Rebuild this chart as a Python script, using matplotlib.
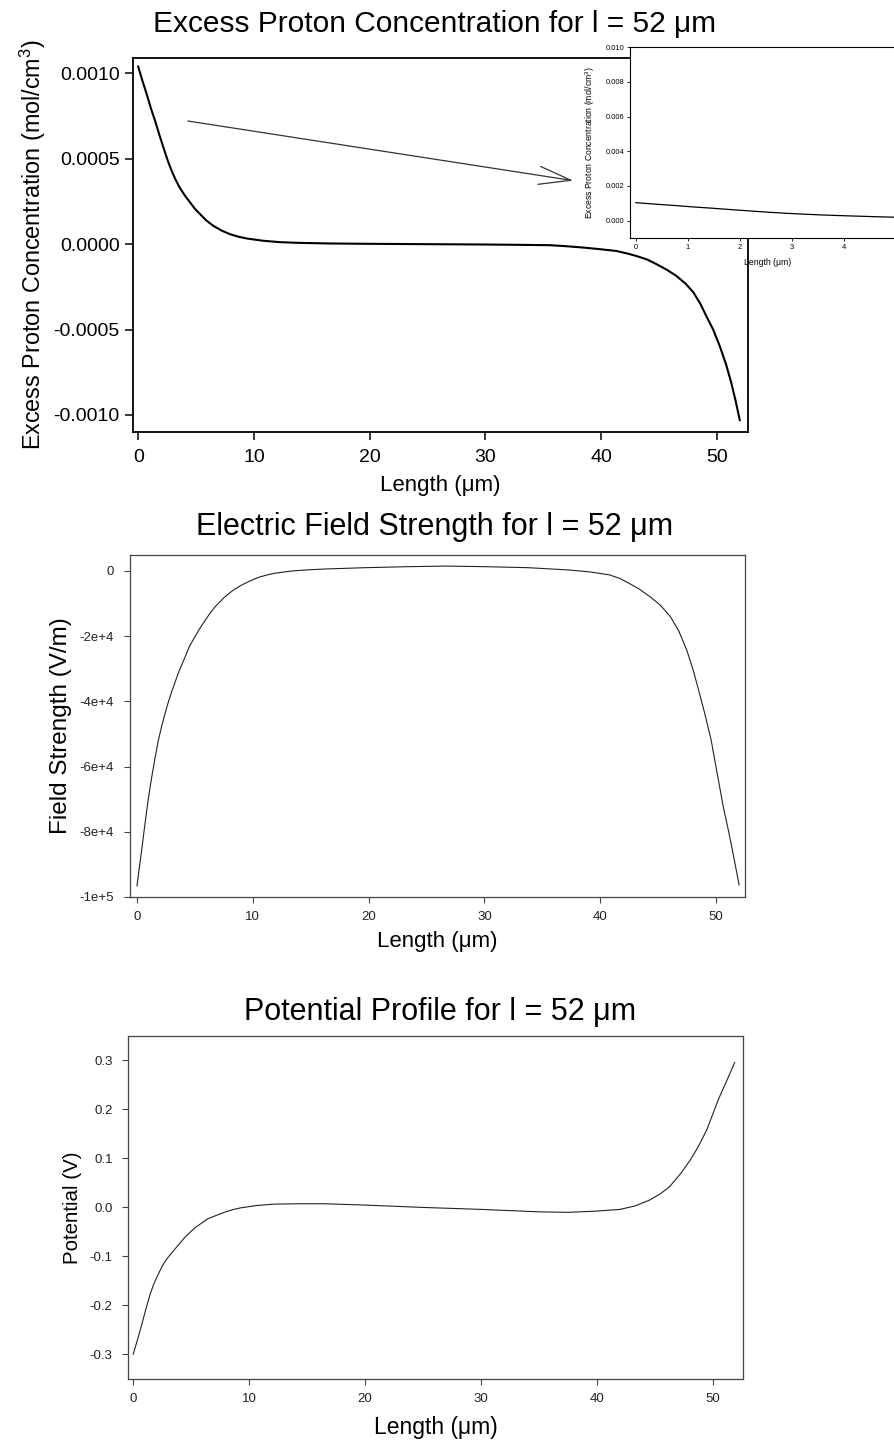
import matplotlib
matplotlib.use('Agg')
import matplotlib.pyplot as plt

plt.rcParams['font.family'] = ['Liberation Sans', 'DejaVu Sans']
plt.rcParams['mathtext.fontset'] = 'custom'
plt.rcParams['mathtext.rm'] = 'Liberation Sans'
plt.rcParams['axes.unicode_minus'] = False

# excess proton concentration (mol/cm3) vs length (um)
conc_x = [0, 0.35, 0.75, 1.1, 1.47, 1.83, 2.19, 2.55, 2.9, 3.25, 3.6, 4.05, 4.5, 4.9, 5.36, 5.9,
          6.5, 7.2, 7.95, 8.7, 9.4, 10.8, 12.2, 13.7, 16.6, 20, 25, 30, 33, 35.6, 37, 38.5, 40,
          41.35, 42.3, 43.1, 44, 44.8, 45.7, 46.5, 47.3, 48, 48.6, 49.1, 49.7, 50.26, 50.8,
          51.26, 51.65, 52]
conc_y = [0.00104, 0.00096, 0.000875, 0.000795, 0.00072, 0.00064, 0.000564, 0.00049, 0.000428,
          0.000375, 0.00033, 0.000283, 0.000243, 0.000207, 0.000175, 0.000138, 0.000107,
          0.00008, 0.000058, 0.000043, 0.000033, 0.00002, 0.000012, 0.000008, 0.000004,
          0.000002, 0.0, -0.000002, -0.000004, -0.000006, -0.000012, -0.00002, -0.00003,
          -0.00004, -0.000055, -0.00007, -0.00009, -0.000117, -0.00015, -0.000185, -0.00023,
          -0.000283, -0.00035, -0.00042, -0.0005, -0.000595, -0.0007, -0.00081, -0.00092,
          -0.00103]

# electric field strength (V/m)
field_x = [0, 0.2, 0.4, 0.62, 0.84, 1.05, 1.27, 1.55, 1.84, 2.12, 2.42, 2.7, 3.0, 3.57, 4.15,
           4.55, 5.0, 5.45, 5.9, 6.3, 6.74, 7.6, 8.3, 9.05, 9.8, 10.5, 11.2, 11.9, 13.4, 14.8,
           16.25, 19.7, 23.2, 26.7, 30.2, 33.8, 37.3, 39.1, 40.8, 41.7, 42.5, 43.4, 44.3, 45.2,
           46.06, 46.8, 47.47, 48.0, 48.5, 49.05, 49.58, 50.1, 50.63, 51.1, 51.55, 52]
field_y = [-96600, -91000, -85800, -79500, -73500, -68200, -63300, -57500, -52000, -47800,
           -43800, -40300, -37000, -31300, -26400, -23000, -20200, -17500, -15100, -13000,
           -11000, -7900, -5900, -4300, -3000, -1950, -1250, -700, 0, 350, 600, 1000, 1300,
           1500, 1300, 1000, 300, -300, -1200, -2300, -3800, -5600, -7900, -10500, -14000,
           -18500, -24200, -30000, -36500, -44000, -51800, -62000, -72300, -80000, -88000,
           -96300]

# potential (V)
pot_x = [0, 0.37, 0.74, 1.1, 1.46, 1.8, 2.17, 2.5, 2.9, 3.6, 4.46, 5.3, 5.9, 6.46, 7.2, 7.9, 8.6,
         9.3, 10.7, 12.2, 14.5, 16.5, 20, 25, 30, 35, 37.5, 40, 42, 43.3, 44.55, 45.5, 46.3,
         47.2, 48.07, 48.8, 49.5, 50.0, 50.5, 51.2, 51.9]
pot_y = [-0.2995, -0.27, -0.239, -0.207, -0.177, -0.155, -0.136, -0.12, -0.105, -0.085, -0.061,
         -0.042, -0.032, -0.023, -0.016, -0.0096, -0.0045, -0.0007, 0.004, 0.0068, 0.0075,
         0.0075, 0.0048, 0.0, -0.004, -0.009, -0.010, -0.0075, -0.004, 0.003, 0.015, 0.028,
         0.043, 0.068, 0.097, 0.126, 0.159, 0.19, 0.221, 0.258, 0.296]

x_ticks = [0, 10, 20, 30, 40, 50]
conc_ticks = [0.001, 0.0005, 0.0, -0.0005, -0.001]
conc_labels = ['0.0010', '0.0005', '0.0000', '-0.0005', '-0.0010']
inset_yticks = [0.0, 0.002, 0.004, 0.006, 0.008, 0.010]
inset_ylabels = ['0.000', '0.002', '0.004', '0.006', '0.008', '0.010']
inset_xticks = [0, 1, 2, 3, 4]
field_ticks = [0, -20000, -40000, -60000, -80000, -100000]
field_labels = ['0', '-2e+4', '-4e+4', '-6e+4', '-8e+4', '-1e+5']
pot_ticks = [0.3, 0.2, 0.1, 0.0, -0.1, -0.2, -0.3]
pot_labels = ['0.3', '0.2', '0.1', '0.0', '-0.1', '-0.2', '-0.3']

fig = plt.figure(figsize=(8.95, 14.43), dpi=100)

# ---------- panel 1: concentration ----------
ax1 = fig.add_axes([0.1486, 0.7006, 0.687, 0.2592])
ax1.plot(conc_x, conc_y, color='black', lw=1.5)
ax1.set_xlim(-0.45, 52.7)
ax1.set_ylim(-0.0011, 0.00109)
ax1.set_xticks(x_ticks)
ax1.set_yticks(conc_ticks, conc_labels)
ax1.tick_params(direction='out', length=5.5, width=1.1, labelsize=14)
ax1.tick_params(axis='x', pad=7)
ax1.tick_params(axis='y', pad=4)
for s in ax1.spines.values():
    s.set_linewidth(1.3)
ax1.set_xlabel('Length (\u03bcm)', fontsize=16, va='center')
ax1.xaxis.set_label_coords(0.5, -0.142)
ax1.set_ylabel('Excess Proton Concentration (mol/cm$^3$)', fontsize=16.8, va='center')
ax1.yaxis.set_label_coords(-0.163, 0.5)
ax1.annotate('', xy=(37.6, 0.000372), xytext=(4.3, 0.000721),
             arrowprops=dict(arrowstyle='->, head_length=2.3, head_width=0.65',
                             color='#333333', lw=0.9, mutation_scale=10,
                             shrinkA=0, shrinkB=0))

# inset (runs off the right edge of the figure)
axi = fig.add_axes([0.7039, 0.835, 0.3084, 0.1324])
axi.plot(conc_x, conc_y, color='black', lw=0.9)
axi.set_xlim(-0.115, 5.2)
axi.set_ylim(-0.001, 0.010)
axi.set_xticks(inset_xticks)
axi.set_yticks(inset_yticks, inset_ylabels)
axi.tick_params(direction='out', length=2, width=0.6, labelsize=5.4, pad=2)
for s in axi.spines.values():
    s.set_linewidth(0.8)
axi.set_xlabel('Length (\u03bcm)', fontsize=6.2, va='center')
axi.xaxis.set_label_coords(0.5, -0.126)
axi.set_ylabel('Excess Proton Concentration (mol/cm$^3$)', fontsize=6.2, va='center')
axi.yaxis.set_label_coords(-0.145, 0.5)

fig.text(0.486, 0.9834, 'Excess Proton Concentration for l = 52 \u03bcm',
         ha='center', va='center', fontsize=21.5)

# ---------- panel 2: electric field ----------
ax2 = fig.add_axes([0.1453, 0.3784, 0.687, 0.237])
ax2.plot(field_x, field_y, color='#222222', lw=0.8)
ax2.set_xlim(-0.6, 52.5)
ax2.set_ylim(-100000, 4900)
ax2.set_xticks(x_ticks)
ax2.set_yticks(field_ticks, field_labels)
ax2.tick_params(direction='out', length=4, width=0.8, labelsize=9.5,
                color='#444444', labelcolor='#222222')
ax2.tick_params(axis='x', pad=6)
ax2.tick_params(axis='y', pad=8)
for s in ax2.spines.values():
    s.set_linewidth(0.9)
    s.set_color('#444444')
ax2.set_xlabel('Length (\u03bcm)', fontsize=16, va='center')
ax2.xaxis.set_label_coords(0.5, -0.1316)
ax2.set_ylabel('Field Strength (V/m)', fontsize=17.5, va='center')
ax2.yaxis.set_label_coords(-0.112, 0.5)
fig.text(0.486, 0.6348, 'Electric Field Strength for l = 52 \u03bcm',
         ha='center', va='center', fontsize=22)

# ---------- panel 3: potential ----------
ax3 = fig.add_axes([0.143, 0.0444, 0.687, 0.2377])
ax3.plot(pot_x, pot_y, color='#222222', lw=0.8)
ax3.set_xlim(-0.45, 52.6)
ax3.set_ylim(-0.35, 0.35)
ax3.set_xticks(x_ticks)
ax3.set_yticks(pot_ticks, pot_labels)
ax3.tick_params(direction='out', length=4, width=0.8, labelsize=9.5,
                color='#444444', labelcolor='#222222')
ax3.tick_params(axis='x', pad=6)
ax3.tick_params(axis='y', pad=7)
for s in ax3.spines.values():
    s.set_linewidth(0.9)
    s.set_color('#444444')
ax3.set_xlabel('Length (\u03bcm)', fontsize=16.5, va='center')
ax3.xaxis.set_label_coords(0.5, -0.143)
ax3.set_ylabel('Potential (V)', fontsize=14.8, va='center')
ax3.yaxis.set_label_coords(-0.091, 0.5)
fig.text(0.492, 0.2987, 'Potential Profile for l = 52 \u03bcm',
         ha='center', va='center', fontsize=22)

fig.savefig('out.png', dpi=100)
